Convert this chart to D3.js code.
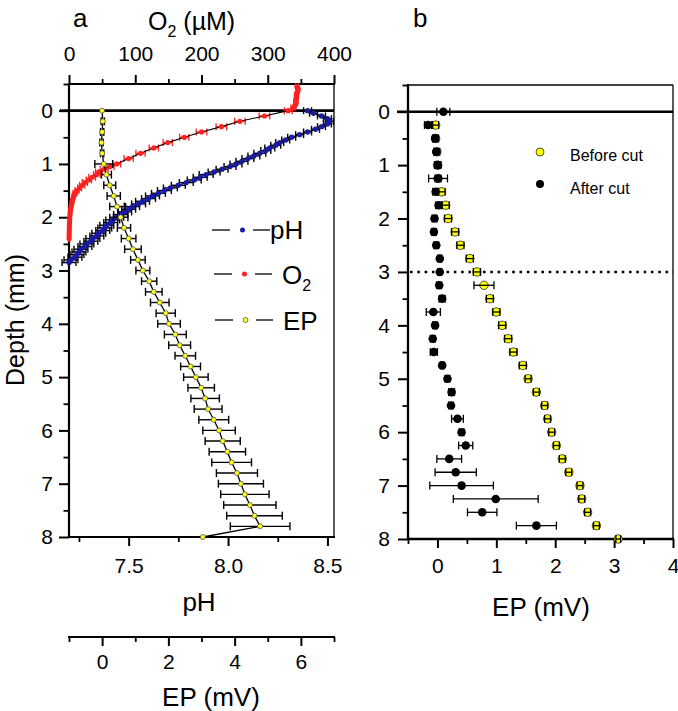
<!DOCTYPE html>
<html><head><meta charset="utf-8">
<script src="https://cdn.jsdelivr.net/npm/d3@7"></script>
<style>body{margin:0;background:#fff}svg{display:block}</style>
</head><body><svg id="c" width="678" height="711"></svg>
<script>
// ---------- Panel a data ----------
const phDepth = [0,0.05,0.1,0.15,0.2,0.25,0.3,0.35,0.4,0.45,0.5,0.55,0.6,0.65,0.7,0.75,0.8,0.85,0.9,0.95,1.0,1.05,1.1,1.15,1.2,1.25,1.3,1.35,1.4,1.45,1.5,1.55,1.6,1.65,1.7,1.75,1.8,1.85,1.9,1.95,2.0,2.05,2.1,2.15,2.2,2.25,2.3,2.35,2.4,2.45,2.5,2.55,2.6,2.65,2.7,2.75,2.8,2.85];
const phVal = [8.40,8.43,8.47,8.50,8.51,8.50,8.47,8.44,8.40,8.36,8.32,8.29,8.26,8.24,8.21,8.19,8.16,8.13,8.10,8.07,8.04,8.01,7.97,7.93,7.89,7.86,7.83,7.79,7.75,7.71,7.68,7.65,7.62,7.60,7.57,7.55,7.52,7.50,7.48,7.46,7.44,7.42,7.41,7.39,7.38,7.37,7.35,7.34,7.32,7.31,7.29,7.28,7.26,7.25,7.24,7.23,7.21,7.20];
const phErr = [0.02,0.02,0.02,0.02,0.02,0.02,0.02,0.02,0.02,0.02,0.02,0.02,0.02,0.025,0.025,0.025,0.03,0.03,0.03,0.03,0.03,0.03,0.03,0.03,0.035,0.035,0.035,0.035,0.035,0.035,0.035,0.035,0.035,0.035,0.035,0.035,0.035,0.035,0.035,0.035,0.035,0.035,0.035,0.035,0.035,0.035,0.035,0.035,0.035,0.035,0.035,0.035,0.035,0.035,0.035,0.035,0.035,0.035];

const o2Depth = [-0.45,-0.4,-0.35,-0.3,-0.25,-0.2,-0.15,-0.1,-0.05,0,0.1,0.2,0.3,0.4,0.5,0.6,0.7,0.8,0.9,1.0,1.05,1.1,1.15,1.2,1.25,1.3,1.35,1.4,1.45,1.5,1.55,1.6,1.65,1.7,1.75,1.8,1.85,1.9,1.95,2.0,2.05,2.1,2.15,2.2,2.25,2.3,2.35,2.4];
const o2Val = [344,346,345,343,344,342,343,341,338,331,295,258,230,200,174,149,128,108,90,72,62,53,45,42,35,30,24,20,16,12,9,7,6,5,4,3,2.5,2,1.5,1.2,1,0.8,0.6,0.5,0.4,0.3,0.2,0.2];
const o2Err = [2,2,2,2,2,2,2,2,3,6,8,8,8,8,7,7,7,7,7,6,6,6,5,5,5,4,4,4,3,3,3,2,2,2,2,2,1,1,1,1,1,1,1,1,1,1,1,1];

const epDepth = [0,0.2,0.4,0.6,0.8,1.0,1.2,1.4,1.6,1.8,2.0,2.2,2.4,2.6,2.8,3.0,3.2,3.4,3.6,3.8,4.0,4.2,4.4,4.6,4.8,5.0,5.2,5.4,5.6,5.8,6.0,6.2,6.4,6.6,6.8,7.0,7.2,7.4,7.6,7.8,8.0];
const epVal = [0.0,0.02,0.0,-0.02,0.0,0.05,0.13,0.23,0.35,0.45,0.56,0.66,0.80,0.93,1.08,1.23,1.42,1.56,1.74,1.92,2.02,2.21,2.34,2.51,2.67,2.83,2.99,3.11,3.20,3.37,3.53,3.64,3.78,3.91,4.07,4.19,4.31,4.46,4.60,4.77,3.04];
const epErr = [0,0.05,0.05,0.05,0.05,0.27,0.15,0.18,0.2,0.22,0.22,0.2,0.22,0.25,0.22,0.21,0.23,0.25,0.28,0.29,0.34,0.33,0.33,0.31,0.3,0.37,0.4,0.43,0.42,0.45,0.49,0.53,0.55,0.6,0.62,0.68,0.73,0.79,0.84,0.9,0];

// ---------- Panel b data ----------
const beforeDepth = [0.25,0.5,0.75,1.0,1.25,1.5,1.75,2.0,2.25,2.5,2.75,3.0,3.25,3.5,3.75,4.0,4.25,4.5,4.75,5.0,5.25,5.5,5.75,6.0,6.25,6.5,6.75,7.0,7.25,7.5,7.75,8.0];
const beforeVal = [-0.03,-0.03,-0.01,0.0,0.01,0.07,0.14,0.18,0.30,0.39,0.55,0.67,0.79,0.89,1.0,1.10,1.20,1.29,1.45,1.54,1.68,1.82,1.87,1.94,2.02,2.12,2.23,2.42,2.45,2.55,2.70,3.07];
const beforeErr = [0.05,0.05,0.05,0.05,0.05,0.06,0.06,0.06,0.06,0.06,0.06,0.06,0.17,0.06,0.06,0.06,0.06,0.06,0.06,0.05,0.05,0.05,0.05,0.05,0.05,0.05,0.05,0.05,0.05,0.05,0.05,0.04];
const afterDepth = [0,0.25,0.5,0.75,1.0,1.25,1.5,1.75,2.0,2.25,2.5,2.75,3.0,3.25,3.5,3.75,4.0,4.25,4.5,4.75,5.0,5.25,5.5,5.75,6.0,6.25,6.5,6.75,7.0,7.25,7.5,7.75];
const afterVal = [0.10,-0.16,-0.04,-0.02,0.01,0.01,-0.03,0.02,-0.05,-0.06,-0.02,0.04,0.04,0.03,0.08,-0.07,-0.04,-0.08,-0.06,0.08,0.17,0.24,0.23,0.34,0.41,0.48,0.20,0.31,0.41,0.99,0.76,1.68];
const afterErr = [0.11,0.06,0.04,0.04,0.05,0.16,0.05,0.05,0.04,0.04,0.04,0.03,0.03,0.04,0.05,0.12,0.04,0.04,0.06,0.03,0.04,0.05,0.04,0.1,0.04,0.12,0.21,0.35,0.54,0.72,0.25,0.34];

// ticks
const depthMajor = [0,1,2,3,4,5,6,7,8];
const depthMinor = [-0.5,0.5,1.5,2.5,3.5,4.5,5.5,6.5,7.5];
const o2Major = [0,100,200,300,400], o2Minor = [50,150,250,350];
const phMajor = [7.5,8.0,8.5], phMinor = [7.25,7.75,8.25];
const epAMajor = [0,2,4,6], epAMinor = [-1,1,3,5,7];
const epBMajor = [0,1,2,3,4], epBMinor = [-0.5,0.5,1.5,2.5,3.5];

const FONT = '"Liberation Sans", Arial, Helvetica, sans-serif';
const svg = d3.select("#c");

// scales panel a
const yA = d3.scaleLinear([-0.5, 8], [84, 537]);
const xPH = d3.scaleLinear([7.2, 8.533], [69, 334]);
const xO2 = d3.scaleLinear([0, 400], [69, 334]);
const xEPa = d3.scaleLinear([-1, 7], [69, 334]);
// scales panel b
const yB = d3.scaleLinear([-0.5, 8], [85, 539]);
const xEPb = d3.scaleLinear([-0.5, 4], [408, 673]);

function styleAxis(g, fs, sw) {
  g.select(".domain").remove();
  g.attr("font-family", FONT).attr("font-size", fs);
  g.selectAll("line").attr("stroke", "#000").attr("stroke-width", sw);
  g.selectAll("text").attr("fill", "#000");
}
function axisPair(maker, scale, major, minor, tx, ty, size, pad, fmt) {
  const g1 = svg.append("g").attr("transform", `translate(${tx},${ty})`)
    .call(maker(scale).tickValues(major).tickSize(size).tickPadding(pad).tickFormat(fmt));
  styleAxis(g1, 21, 2);
  const g2 = svg.append("g").attr("transform", `translate(${tx},${ty})`)
    .call(maker(scale).tickValues(minor).tickSize(size * 0.55).tickFormat(""));
  styleAxis(g2, 21, 1.8);
  return g1;
}
function line(x1, y1, x2, y2, w) {
  svg.append("line").attr("x1", x1).attr("y1", y1).attr("x2", x2).attr("y2", y2)
    .attr("stroke", "#000").attr("stroke-width", w);
}
function text(x, y, s, fs, anchor) {
  return svg.append("text").attr("x", x).attr("y", y).attr("font-family", FONT)
    .attr("font-size", fs).attr("text-anchor", anchor || "start").attr("fill", "#000").text(s);
}
function errBars(data, xs, ys, color, cap, sw) {
  const g = svg.append("g").attr("stroke", color).attr("stroke-width", sw).attr("fill", "none");
  data.filter(d => d.e > 0).forEach(d => {
    const y = ys(d.d), x1 = xs(d.v - d.e), x2 = xs(d.v + d.e);
    g.append("line").attr("x1", x1).attr("x2", x2).attr("y1", y).attr("y2", y);
    g.append("line").attr("x1", x1).attr("x2", x1).attr("y1", y - cap).attr("y2", y + cap);
    g.append("line").attr("x1", x2).attr("x2", x2).attr("y1", y - cap).attr("y2", y + cap);
  });
}
function zip(dep, val, err) { return dep.map((d, i) => ({ d, v: val[i], e: err ? err[i] : 0 })); }

// ================= Panel a =================
const fmtInt = d3.format("d");
axisPair(d3.axisLeft, yA, depthMajor, depthMinor, 69, 0, 10, 6, fmtInt);
axisPair(d3.axisTop, xO2, o2Major, o2Minor, 0, 84, 9, 14, fmtInt);
axisPair(d3.axisBottom, xPH, phMajor, phMinor, 0, 537, 9, 12, d3.format(".1f"));
axisPair(d3.axisBottom, xEPa, epAMajor, epAMinor, 0, 637, 9, 8, fmtInt);

// frame
line(69, 84, 69, 538, 2.2);
line(68, 537, 335, 537, 2.2);
line(68, 84, 335, 84, 2);
line(334, 84, 334, 537, 1.3);
line(68, 637, 335, 637, 2.2);
// zero line
line(60, yA(0), 334, yA(0), 2.6);

// pH series
const phData = zip(phDepth, phVal, phErr);
errBars(phData, xPH, yA, "#000", 3.5, 1.4);
svg.append("path").datum(phData).attr("fill", "none").attr("stroke", "#000").attr("stroke-width", 1.1)
  .attr("d", d3.line().x(d => xPH(d.v)).y(d => yA(d.d)));
svg.append("g").selectAll("circle").data(phData).join("circle")
  .attr("cx", d => xPH(d.v)).attr("cy", d => yA(d.d)).attr("r", 2.7).attr("fill", "#1a1aa8");

// O2 series
const o2Data = zip(o2Depth, o2Val, o2Err);
errBars(o2Data, xO2, yA, "#ff2020", 3.5, 1.3);
svg.append("path").datum(o2Data.filter(d => d.d >= 0)).attr("fill", "none").attr("stroke", "#000").attr("stroke-width", 1.1)
  .attr("d", d3.line().x(d => xO2(d.v)).y(d => yA(d.d)));
svg.append("g").selectAll("circle").data(o2Data).join("circle")
  .attr("cx", d => xO2(d.v)).attr("cy", d => yA(d.d)).attr("r", 2.6).attr("fill", "#ff2020");

// EP series
const epData = zip(epDepth, epVal, epErr);
errBars(epData, xEPa, yA, "#000", 4, 1.4);
svg.append("path").datum(epData).attr("fill", "none").attr("stroke", "#000").attr("stroke-width", 1.3)
  .attr("d", d3.line().x(d => xEPa(d.v)).y(d => yA(d.d)));
svg.append("g").selectAll("circle").data(epData).join("circle")
  .attr("cx", d => xEPa(d.v)).attr("cy", d => yA(d.d)).attr("r", 2.5)
  .attr("fill", "#ffff20").attr("stroke", "#444").attr("stroke-width", 0.7);

// legend a
const legA = [
  { y: 230, x0: 212, c: "#1a1aa8", s: null },
  { y: 274, x0: 214, c: "#ff2020", s: null },
  { y: 320, x0: 215, c: "#ffff20", s: "#444" }
];
legA.forEach(l => {
  line(l.x0, l.y, l.x0 + 18, l.y, 1.3);
  line(l.x0 + 41, l.y, l.x0 + 58, l.y, 1.3);
  svg.append("circle").attr("cx", l.x0 + 30.5).attr("cy", l.y).attr("r", 2.5).attr("fill", l.c)
    .attr("stroke", l.s || "none").attr("stroke-width", 0.7);
});
text(270, 239, "pH", 26);
{
  const t = text(282, 284, "O", 26);
  t.append("tspan").attr("font-size", 16).attr("dy", 7).text("2");
}
text(283, 330, "EP", 26);

// titles a
text(73, 27, "a", 26);
{
  const t = text(148, 30, "O", 25);
  t.append("tspan").attr("font-size", 16).attr("dy", 7).text("2");
  t.append("tspan").attr("dy", -7).text(" (µM)");
}
text(199, 611, "pH", 26, "middle");
text(211, 706, "EP (mV)", 26, "middle");
svg.append("text").attr("transform", "translate(24,320) rotate(-90)").attr("text-anchor", "middle")
  .attr("font-family", FONT).attr("font-size", 25).attr("fill", "#000").text("Depth (mm)");

// ================= Panel b =================
axisPair(d3.axisLeft, yB, depthMajor, depthMinor, 408, 0, 10, 8, fmtInt);
axisPair(d3.axisBottom, xEPb, epBMajor, epBMinor, 0, 539, 9, 10, fmtInt);
line(408, 84, 408, 540, 2.3);
line(407, 539, 674, 539, 2.3);
line(408, 85, 673, 85, 1.3);
line(673, 85, 673, 539, 1.3);
line(397, yB(0), 673, yB(0), 2.6);
svg.append("line").attr("x1", 410).attr("x2", 673).attr("y1", yB(3)).attr("y2", yB(3))
  .attr("stroke", "#000").attr("stroke-width", 2.6).attr("stroke-dasharray", "2.6,4.7");

const bData = zip(beforeDepth, beforeVal, beforeErr);
const aData = zip(afterDepth, afterVal, afterErr);
svg.append("g").selectAll("circle").data(bData).join("circle")
  .attr("cx", d => xEPb(d.v)).attr("cy", d => yB(d.d)).attr("r", 4.2)
  .attr("fill", "#ffff00").attr("stroke", "#222").attr("stroke-width", 0.8);
errBars(bData, xEPb, yB, "#000", 4, 1.3);
svg.append("g").selectAll("circle").data(aData).join("circle")
  .attr("cx", d => xEPb(d.v)).attr("cy", d => yB(d.d)).attr("r", 4.3).attr("fill", "#000");
errBars(aData, xEPb, yB, "#000", 4, 1.3);

// legend b
svg.append("circle").attr("cx", 540).attr("cy", 152).attr("r", 4).attr("fill", "#ffff00")
  .attr("stroke", "#222").attr("stroke-width", 0.8);
text(570, 161, "Before cut", 16);
svg.append("circle").attr("cx", 540).attr("cy", 184).attr("r", 4).attr("fill", "#000");
text(570, 194, "After cut", 16);

text(413, 27, "b", 26);
text(541, 616, "EP (mV)", 26, "middle");
</script></body></html>
